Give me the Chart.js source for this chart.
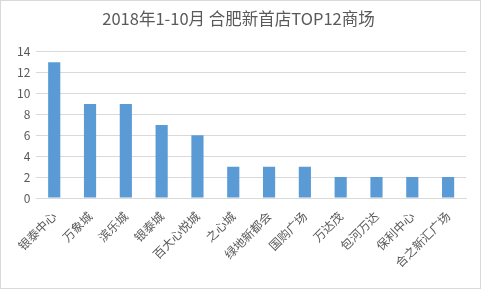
<!DOCTYPE html>
<html>
<head>
<meta charset="utf-8">
<script src="https://cdn.jsdelivr.net/npm/chart.js@4"></script>
<style>
  html, body { margin: 0; padding: 0; background: #fff; }
  #wrap { width: 479px; height: 287px; border: 1px solid #d9d9d9; position: relative; }
</style>
</head>
<body>
<div id="wrap"><canvas id="chart" width="479" height="287"></canvas></div>
<script>
const malls = ['银泰中心', '万象城', '滨乐城', '银泰城', '百大心悦城', '之心城', '绿地新都会', '国购广场', '万达茂', '包河万达', '保利中心', '合之新汇广场'];
const newStores = [13, 9, 9, 7, 6, 3, 3, 3, 2, 2, 2, 2];
const yTicks = [0, 2, 4, 6, 8, 10, 12, 14];

const font = "'Noto Sans CJK SC', 'Noto Sans', sans-serif";

new Chart(document.getElementById('chart').getContext('2d'), {
    type: 'bar',
    data: {
        labels: malls,
        datasets: [{
            data: newStores,
            backgroundColor: '#5b9bd5',
            categoryPercentage: 1,
            barPercentage: 0.34
        }]
    },
    options: {
        responsive: false,
        animation: false,
        layout: { padding: { left: 10, right: 14, top: 0, bottom: 0 } },
        plugins: {
            legend: { display: false },
            tooltip: { enabled: false },
            title: {
                display: true,
                text: '2018年1-10月 合肥新首店TOP12商场',
                color: '#595959',
                font: { family: font, size: 16.5, weight: 'normal' },
                padding: { top: 8, bottom: 23 }
            }
        },
        scales: {
            y: {
                min: 0,
                max: 14,
                afterBuildTicks: axis => { axis.ticks = yTicks.map(v => ({ value: v })); },
                ticks: { color: '#595959', font: { family: font, size: 12 }, padding: 6 },
                grid: { color: '#d9d9d9', drawTicks: false },
                border: { display: false }
            },
            x: {
                afterFit: axis => { axis.height = 90; },
                ticks: {
                    color: '#595959',
                    font: { family: font, size: 12 },
                    minRotation: 45,
                    maxRotation: 45,
                    autoSkip: false,
                    padding: 3
                },
                grid: { display: false },
                border: { color: '#d9d9d9' }
            }
        }
    }
});
</script>
</body>
</html>
